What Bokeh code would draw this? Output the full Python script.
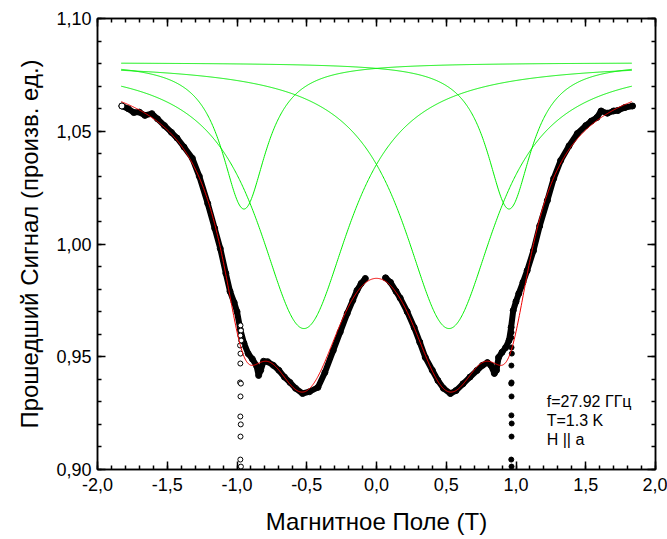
import numpy as np
from bokeh.plotting import figure
from bokeh.models import LinearAxis, FixedTicker, Label, Range1d
from bokeh.embed import file_html
from bokeh.resources import INLINE

# ---------------- data ----------------
# measured data, negative field sweep (open circles)
neg_field = [-1.825, -1.78, -1.74, -1.70, -1.66, -1.61, -1.57, -1.52, -1.47, -1.43,
             -1.38, -1.32, -1.27, -1.21, -1.16, -1.12, -1.08, -1.05, -1.02, -1.00,
             -0.975, -0.95, -0.92, -0.89, -0.86, -0.845, -0.83, -0.81, -0.78, -0.74,
             -0.70, -0.66, -0.62, -0.58, -0.53, -0.48, -0.42, -0.37, -0.31, -0.26,
             -0.21, -0.17, -0.14, -0.11, -0.08]
neg_signal = [1.0612, 1.0600, 1.0583, 1.0585, 1.0570, 1.0578, 1.0555, 1.0525, 1.0495, 1.0470,
              1.0430, 1.0380, 1.0300, 1.0180, 1.0070, 0.9980, 0.9870, 0.9790, 0.9740, 0.9700,
              0.9617, 0.9560, 0.9514, 0.9490, 0.9460, 0.9417, 0.9440, 0.9480, 0.9478, 0.9462,
              0.9440, 0.9410, 0.9386, 0.9360, 0.9337, 0.9345, 0.9364, 0.9430, 0.9528, 0.9610,
              0.9692, 0.9750, 0.9794, 0.9825, 0.9847]
# stray points of the negative sweep near -1 T
neg_out_field = [-0.975, -0.972, -0.976, -0.970, -0.978, -0.975, -0.976, -0.978, -0.972,
                 -0.975, -0.976, -0.973, -0.975, -0.976, -0.972]
neg_out_signal = [0.9639, 0.9616, 0.9594, 0.9572, 0.9550, 0.9514, 0.9470, 0.9386, 0.9381,
                  0.9324, 0.9235, 0.9200, 0.9146, 0.9044, 0.9013]

# measured data, positive field sweep (filled circles)
pos_field = [0.065, 0.10, 0.14, 0.17, 0.22, 0.27, 0.31, 0.35, 0.40, 0.44,
             0.48, 0.53, 0.57, 0.62, 0.67, 0.72, 0.76, 0.795, 0.82, 0.845,
             0.86, 0.875, 0.90, 0.925, 0.95, 0.965, 0.98, 1.00, 1.02, 1.05,
             1.08, 1.125, 1.17, 1.225, 1.27, 1.32, 1.38, 1.44, 1.50, 1.54,
             1.58, 1.61, 1.655, 1.70, 1.73, 1.78, 1.835]
pos_signal = [0.9850, 0.9830, 0.9790, 0.9760, 0.9700, 0.9630, 0.9565, 0.9497, 0.9440, 0.9395,
              0.9360, 0.9337, 0.9350, 0.9380, 0.9410, 0.9439, 0.9462, 0.9474, 0.9462, 0.9426,
              0.9440, 0.9497, 0.9520, 0.9540, 0.9572, 0.9630, 0.9705, 0.9745, 0.9780, 0.9830,
              0.9882, 0.9970, 1.0080, 1.0193, 1.0290, 1.0370, 1.0435, 1.0490, 1.0525, 1.0545,
              1.0561, 1.0590, 1.0580, 1.0590, 1.0592, 1.0605, 1.0612]
pos_out_field = [0.968, 0.966, 0.968, 0.970, 0.967, 0.968, 0.966, 0.968, 0.967,
                 0.969, 0.968, 0.966, 0.968]
pos_out_signal = [0.9608, 0.9585, 0.9541, 0.9514, 0.9461, 0.9386, 0.9381, 0.9324, 0.9240,
                  0.9204, 0.9146, 0.9044, 0.9013]

# Lorentzian components of the fit (green)
fit_baseline = 1.0805
fit_centers = [-0.95, -0.52, 0.52, 0.95]
fit_depths = [0.065, 0.118, 0.118, 0.065]
fit_hwhm = [0.195, 0.41, 0.41, 0.195]
fit_range = [-1.83, 1.83]

x_ticks = [-2.0, -1.5, -1.0, -0.5, 0.0, 0.5, 1.0, 1.5, 2.0]
x_tick_labels = ["-2,0", "-1,5", "-1,0", "-0,5", "0,0", "0,5", "1,0", "1,5", "2,0"]
y_ticks = [0.90, 0.95, 1.00, 1.05, 1.10]
y_tick_labels = ["0,90", "0,95", "1,00", "1,05", "1,10"]

x_title = "Магнитное Поле (T)"
y_title = "Прошедший Сигнал (произв. ед.)"
notes = ["f=27.92 ГГц", "T=1.3 K", "H || a"]

# ---------------- figure ----------------
FONT = "Liberation Sans"
p = figure(width=667, height=539, output_backend="svg", toolbar_location=None,
           x_range=Range1d(-2.0, 2.0), y_range=Range1d(0.90, 1.10),
           min_border_left=97, min_border_right=12, min_border_top=18, min_border_bottom=70)
p.xgrid.visible = False
p.ygrid.visible = False
p.outline_line_color = "black"
p.outline_line_width = 1.5
p.background_fill_color = "white"
p.border_fill_color = "white"

# component curves
xs = np.linspace(fit_range[0], fit_range[1], 800)
total = np.zeros_like(xs)
for c, a, w in zip(fit_centers, fit_depths, fit_hwhm):
    comp = a / (1.0 + ((xs - c) / w) ** 2)
    total += comp
    p.line(xs, fit_baseline - comp, line_color="#00ee00", line_width=1)

# measured data
p.scatter(neg_field, neg_signal, size=6, marker="circle", line_color="black",
          fill_color="white", line_width=1)
p.line(neg_field, neg_signal, line_color="black", line_width=6, line_join="round", line_cap="round")
p.scatter(pos_field, pos_signal, size=6, marker="circle", line_color="black",
          fill_color="black", line_width=1)
p.line(pos_field, pos_signal, line_color="black", line_width=6, line_join="round", line_cap="round")
p.scatter(neg_out_field, neg_out_signal, size=5, marker="circle", line_color="black",
          fill_color="white", line_width=1)
p.scatter(pos_out_field, pos_out_signal, size=5, marker="circle", line_color="black",
          fill_color="black", line_width=1)
p.scatter([neg_field[0]], [neg_signal[0]], size=6, marker="circle", line_color="black",
          fill_color="white", line_width=1)

# total fit
p.line(xs, fit_baseline - total, line_color="#ee0000", line_width=1)

# axes
def style(ax):
    ax.axis_line_width = 1.5
    ax.axis_line_color = "black"
    ax.major_tick_in = 8
    ax.major_tick_out = 0
    ax.minor_tick_in = 4
    ax.minor_tick_out = 0
    ax.major_tick_line_width = 1.5
    ax.minor_tick_line_width = 1.5
    ax.major_tick_line_color = "black"
    ax.minor_tick_line_color = "black"
    ax.major_label_text_font = FONT
    ax.major_label_text_font_size = "18px"
    ax.major_label_text_color = "black"
    ax.axis_label_text_font = FONT
    ax.axis_label_text_font_size = "24px"
    ax.axis_label_text_font_style = "normal"
    ax.axis_label_text_color = "black"

xminor = [round(-2.0 + 0.1 * i, 2) for i in range(41)]
yminor = [round(0.90 + 0.01 * i, 2) for i in range(21)]

xa = p.xaxis[0]
xa.ticker = FixedTicker(ticks=x_ticks, minor_ticks=xminor)
xa.major_label_overrides = {t: l for t, l in zip(x_ticks, x_tick_labels)}
xa.axis_label = x_title
style(xa)
xa.major_label_standoff = 8
xa.axis_label_standoff = 14

ya = p.yaxis[0]
ya.ticker = FixedTicker(ticks=y_ticks, minor_ticks=yminor)
ya.major_label_overrides = {t: l for t, l in zip(y_ticks, y_tick_labels)}
ya.axis_label = y_title
style(ya)
ya.major_label_standoff = 6
ya.axis_label_standoff = 10

# mirrored tick-only axes on top and right
top = LinearAxis(ticker=FixedTicker(ticks=x_ticks, minor_ticks=xminor))
style(top)
top.major_label_overrides = {t: "" for t in x_ticks}
p.add_layout(top, "above")
right = LinearAxis(ticker=FixedTicker(ticks=y_ticks, minor_ticks=yminor))
style(right)
right.major_label_overrides = {t: "" for t in y_ticks}
p.add_layout(right, "right")

for i, t in enumerate(notes):
    p.add_layout(Label(x=1.22, y=0.9302 - i * 0.0085, text=t, text_font=FONT,
                       text_font_size="16px", text_baseline="middle", text_color="black"))

open("out.html", "w").write(file_html(p, INLINE))
